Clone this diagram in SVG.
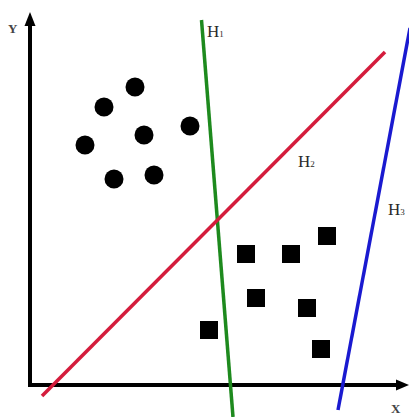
<svg xmlns="http://www.w3.org/2000/svg" width="409" height="417" viewBox="0 0 409 417">
<style>
.lbl{font-family:"Liberation Serif",serif;font-size:17px;fill:#2a2a2a}
.ax{font-family:"Liberation Serif",serif;font-size:13px;font-weight:bold;fill:#444}
.sub{font-size:9px}
.dot{fill:#000}
.sq{fill:#000}
</style>
<rect width="409" height="417" fill="#fff"/>
<g id="connectors">
<line x1="30" y1="386" x2="30" y2="22" stroke="#000" stroke-width="4"/>
<polygon points="30,12 24.5,26 35.5,26" fill="#000"/>
<line x1="28" y1="385" x2="399" y2="385" stroke="#000" stroke-width="4"/>
<polygon points="409,385 396,379.5 396,390.5" fill="#000"/>
<line x1="201.5" y1="20" x2="233" y2="417" stroke="#1e8a1e" stroke-width="3.5"/>
<line x1="42" y1="396" x2="385" y2="52" stroke="#d41c3c" stroke-width="3.5"/>
<line x1="410" y1="28" x2="338" y2="410" stroke="#1a1ad0" stroke-width="3.5"/>
</g>
<g id="axis-labels">
<text class="ax" x="8" y="33">Y</text>
<text class="ax" x="391" y="413">X</text>
</g>
<g id="H1"><text class="lbl" x="207" y="37">H<tspan class="sub" dy="0">1</tspan></text></g>
<g id="H2"><text class="lbl" x="298" y="167">H<tspan class="sub" dy="0">2</tspan></text></g>
<g id="H3"><text class="lbl" x="388" y="215">H<tspan class="sub" dy="0">3</tspan></text></g>
<g id="circles">
<circle class="dot" cx="135" cy="87" r="9.5"/>
<circle class="dot" cx="104" cy="107" r="9.5"/>
<circle class="dot" cx="190" cy="126" r="9.5"/>
<circle class="dot" cx="144" cy="135" r="9.5"/>
<circle class="dot" cx="85" cy="145" r="9.5"/>
<circle class="dot" cx="114" cy="179" r="9.5"/>
<circle class="dot" cx="154" cy="175" r="9.5"/>
</g>
<g id="squares">
<rect class="sq" x="318" y="227" width="18" height="18"/>
<rect class="sq" x="237" y="245" width="18" height="18"/>
<rect class="sq" x="282" y="245" width="18" height="18"/>
<rect class="sq" x="247" y="289" width="18" height="18"/>
<rect class="sq" x="298" y="299" width="18" height="18"/>
<rect class="sq" x="200" y="321" width="18" height="18"/>
<rect class="sq" x="312" y="340" width="18" height="18"/>
</g>
</svg>
